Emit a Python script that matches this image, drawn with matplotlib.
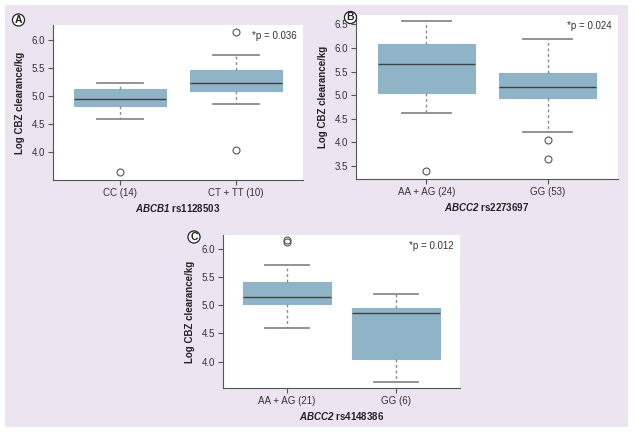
import matplotlib
matplotlib.use("Agg")
import matplotlib.pyplot as plt
from matplotlib.patches import Rectangle

# panel A: ABCB1 rs1128503
a_groups = ["CC (14)", "CT + TT (10)"]
a_low = [4.60, 4.87]
a_q1 = [4.82, 5.09]
a_med = [4.96, 5.23]
a_q3 = [5.13, 5.46]
a_high = [5.24, 5.73]
a_fliers = [[3.65], [6.14, 4.05]]

# panel B: ABCC2 rs2273697
b_groups = ["AA + AG (24)", "GG (53)"]
b_low = [4.61, 4.22]
b_q1 = [5.04, 4.93]
b_med = [5.66, 5.17]
b_q3 = [6.08, 5.47]
b_high = [6.57, 6.20]
b_fliers = [[3.39], [4.05, 3.64]]

# panel C: ABCC2 rs4148386
c_groups = ["AA + AG (21)", "GG (6)"]
c_low = [4.60, 3.64]
c_q1 = [5.02, 4.05]
c_med = [5.14, 4.86]
c_q3 = [5.42, 4.96]
c_high = [5.72, 5.20]
c_fliers = [[6.17, 6.12], []]

LAV = "#ece4f1"
BOX = "#90b4c7"

plt.rcParams["font.family"] = ["Liberation Sans", "DejaVu Sans"]
plt.rcParams["mathtext.fontset"] = "custom"
plt.rcParams["mathtext.rm"] = "Liberation Sans"
plt.rcParams["mathtext.bfit"] = "Liberation Sans:italic:bold"

fig = plt.figure(figsize=(6.35, 4.34), dpi=100)
fig.patch.set_facecolor("white")
fig.patches.append(Rectangle((0.0079, 0.0161), 0.981, 0.972, transform=fig.transFigure,
                             facecolor=LAV, edgecolor="none", zorder=-10))


def panel(rect, groups, low, q1, med, q3, high, fliers, ylim, yticks, gene, snp, ptxt, letter, lpos):
    ax = fig.add_axes(rect)
    ax.set_facecolor("white")
    stats = []
    for i in range(len(groups)):
        stats.append(dict(whislo=low[i], q1=q1[i], med=med[i], q3=q3[i],
                          whishi=high[i], fliers=fliers[i], label=groups[i]))
    ax.bxp(stats, positions=[1, 2], widths=0.8, patch_artist=True,
           boxprops=dict(facecolor=BOX, edgecolor=BOX, linewidth=0.8),
           medianprops=dict(color="#3a3f42", linewidth=1.0),
           whiskerprops=dict(color="#8a8a8a", linestyle=(0, (2, 2)), linewidth=1.0),
           capprops=dict(color="#8a8a8a", linewidth=1.3),
           capwidths=0.4,
           flierprops=dict(marker="o", markerfacecolor="none", markeredgecolor="#555555",
                           markersize=5, markeredgewidth=0.8))
    ax.set_xlim(0.42, 2.58)
    ax.set_ylim(*ylim)
    ax.set_yticks(yticks)
    ax.set_yticklabels([f"{t:.1f}" for t in yticks])
    for s in ["top", "right"]:
        ax.spines[s].set_visible(False)
    for s in ["left", "bottom"]:
        ax.spines[s].set_color("#555555")
        ax.spines[s].set_linewidth(0.8)
    ax.tick_params(axis="both", labelsize=7, colors="#555555", labelcolor="#333333",
                   length=3.5, width=0.8, pad=2)
    ax.set_ylabel("Log CBZ clearance/kg", fontsize=7, fontweight="bold", color="#222222", labelpad=5)
    ax.set_xlabel(r"$\mathbfit{" + gene + "}$ " + snp, fontsize=7, fontweight="bold",
                  color="#222222", labelpad=3)
    ax.text(0.975, 0.93, ptxt, transform=ax.transAxes, ha="right", va="center",
            fontsize=7, color="#333333")
    fig.text(lpos[0] / 635, 1 - lpos[1] / 434, letter, ha="center", va="center",
             fontsize=7.5, fontweight="bold", color="#222222",
             bbox=dict(boxstyle="circle,pad=0.1", facecolor="white", edgecolor="#222222", linewidth=0.9))
    return ax


panel([53 / 635, 1 - 180 / 434, 250 / 635, 155 / 434], a_groups, a_low, a_q1, a_med, a_q3, a_high,
      a_fliers, (3.51, 6.27), [4.0, 4.5, 5.0, 5.5, 6.0], "ABCB1", "rs1128503",
      "*p = 0.036", "A", (18.5, 20))
panel([356 / 635, 1 - 179 / 434, 262 / 635, 164 / 434], b_groups, b_low, b_q1, b_med, b_q3, b_high,
      b_fliers, (3.22, 6.70), [3.5, 4.0, 4.5, 5.0, 5.5, 6.0, 6.5], "ABCC2", "rs2273697",
      "*p = 0.024", "B", (350.5, 17.5))
panel([223 / 635, 1 - 388 / 434, 237 / 635, 153 / 434], c_groups, c_low, c_q1, c_med, c_q3, c_high,
      c_fliers, (3.53, 6.25), [4.0, 4.5, 5.0, 5.5, 6.0], "ABCC2", "rs4148386",
      "*p = 0.012", "C", (194, 237))

fig.savefig("out.png", dpi=100, facecolor=fig.get_facecolor())
